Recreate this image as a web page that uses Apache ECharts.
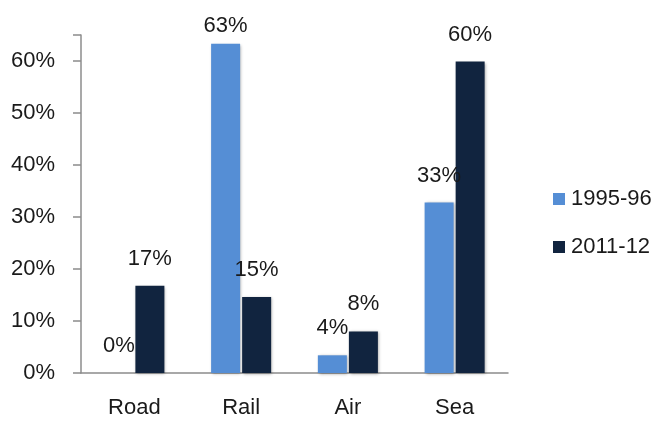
<!DOCTYPE html>
<html>
<head>
<meta charset="utf-8">
<script src="https://cdn.jsdelivr.net/npm/echarts@6/dist/echarts.min.js"></script>
<style>html,body{margin:0;padding:0;background:#fff;}#c{width:664px;height:421px;}</style>
</head>
<body>
<div id="c"></div>
<script>
const categories = ['Road', 'Rail', 'Air', 'Sea'];
const seriesNames = ['1995-96', '2011-12'];
const values1995 = [0, 63.3, 3.4, 32.8];
const values2011 = [16.8, 14.6, 8.0, 59.9];
const labels1995 = ['0%', '63%', '4%', '33%'];
const labels2011 = ['17%', '15%', '8%', '60%'];
const yTicks = [0, 10, 20, 30, 40, 50, 60];

const FONT = 'Liberation Sans';
const FS = 22;
const chart = echarts.init(document.getElementById('c'), null, {renderer: 'canvas'});

function buildData(vals, labs) {
  return vals.map((v, i) => {
    const item = {value: v, labelText: labs[i]};
    if (v > 62) item.label = {distance: 7};
    return item;
  });
}
const shadow = {shadowBlur: 3, shadowColor: 'rgba(0,0,0,0.35)', shadowOffsetX: 1, shadowOffsetY: 1};
const labelCfg = {
  show: true, position: 'top', distance: 16,
  fontFamily: FONT, fontSize: FS, color: '#1a1a1a',
  formatter: p => p.data.labelText
};

chart.setOption({
  animation: false,
  backgroundColor: '#fff',
  grid: {left: 81, right: 156, top: 35, bottom: 48},
  legend: {
    orient: 'vertical', left: 553, top: 188, padding: 0,
    itemWidth: 12, itemHeight: 12, itemGap: 26,
    icon: 'rect',
    textStyle: {fontFamily: FONT, fontSize: FS, color: '#1a1a1a', padding: [0, 0, 0, 1]},
    data: seriesNames
  },
  xAxis: {
    type: 'category', data: categories,
    axisLine: {lineStyle: {color: '#8c8c8c', width: 1.5}},
    axisTick: {show: false},
    axisLabel: {fontFamily: FONT, fontSize: FS, color: '#1a1a1a', margin: 24}
  },
  yAxis: {
    type: 'value', min: 0, max: 65, interval: 10,
    axisLine: {show: true, lineStyle: {color: '#8c8c8c', width: 1.5}},
    axisTick: {show: true, length: 8, lineStyle: {color: '#8c8c8c', width: 1.5}},
    splitLine: {show: false},
    axisLabel: {
      fontFamily: FONT, fontSize: FS, color: '#1a1a1a', margin: 26,
      formatter: v => yTicks.includes(v) ? v + '%' : ''
    }
  },
  series: [
    {name: seriesNames[0], type: 'bar', barWidth: 29, barGap: '7%',
     itemStyle: Object.assign({color: '#558ED5'}, shadow),
     label: labelCfg, data: buildData(values1995, labels1995)},
    {name: seriesNames[1], type: 'bar', barWidth: 29, barGap: '7%',
     itemStyle: Object.assign({color: '#11243F'}, shadow),
     label: labelCfg, data: buildData(values2011, labels2011)}
  ]
});
</script>
</body>
</html>
